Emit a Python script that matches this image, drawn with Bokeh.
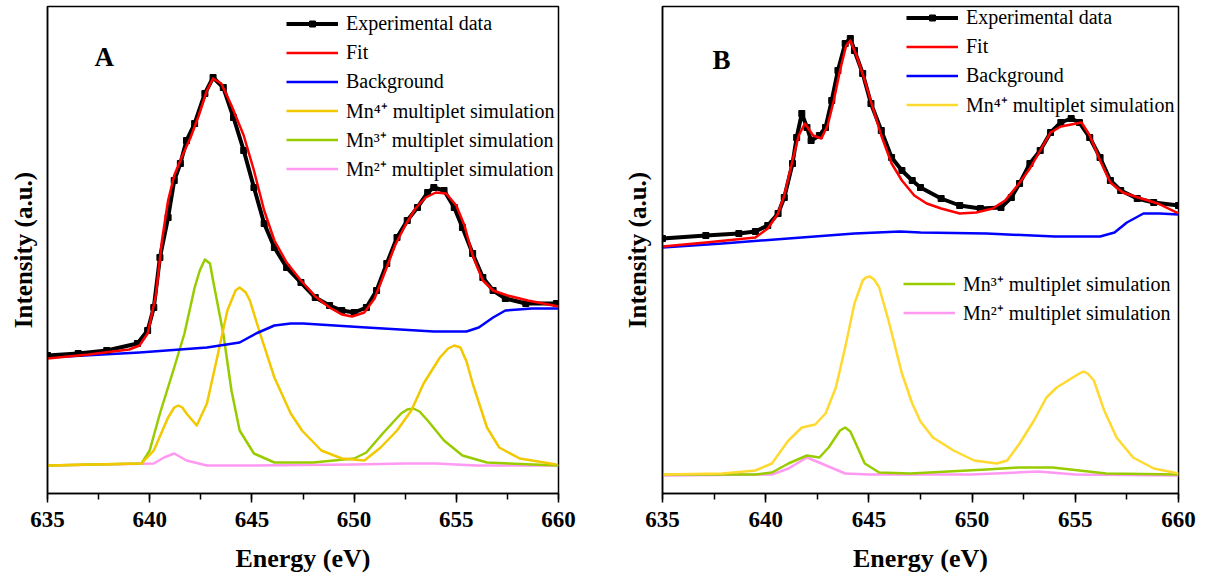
from bokeh.plotting import figure
from bokeh.layouts import row
from bokeh.models import Range1d, SingleIntervalTicker, FixedTicker, Legend, LegendItem, Label
from bokeh.embed import file_html
from bokeh.resources import INLINE

# ---------------- Panel A data (energy in eV, intensity in a.u.) ----------------
a_exp_e = [635.0, 636.5, 637.9, 639.4, 639.9, 640.2, 640.5, 640.9, 641.2, 641.5, 641.8, 642.2, 642.7, 643.1,
           643.6, 644.1, 644.6, 645.1, 645.6, 646.1, 646.7, 647.4, 648.1, 648.8, 649.4, 650.0, 650.6, 651.1,
           651.6, 652.1, 652.6, 653.1, 653.6, 653.9, 654.4, 654.9, 655.3, 655.8, 656.3, 656.8, 657.4, 658.4, 659.9]
a_exp_i = [138, 140, 143, 150, 163, 186, 236, 276, 313, 330, 353, 370, 400, 416,
           406, 376, 343, 306, 270, 246, 226, 211, 196, 188, 183, 181, 186, 203,
           230, 256, 273, 286, 301, 306, 303, 286, 266, 240, 216, 203, 195, 190, 190]

a_fit_e = [635.0, 637.0, 639.0, 639.5, 639.9, 640.3, 640.6, 640.9, 641.2, 641.6, 642.0, 642.4, 642.8, 643.1,
           643.5, 644.0, 644.6, 645.1, 645.6, 646.1, 646.7, 647.4, 648.1, 648.8, 649.4, 649.9, 650.5, 651.0,
           651.5, 652.0, 652.5, 653.0, 653.5, 654.0, 654.5, 655.0, 655.4, 655.8, 656.3, 656.8, 657.5, 658.5, 660.0]
a_fit_i = [135, 139, 144, 148, 160, 198, 253, 293, 318, 338, 356, 378, 403, 415,
           410, 388, 358, 323, 283, 253, 231, 213, 197, 186, 179, 177, 181, 195,
           221, 248, 268, 285, 296, 301, 300, 288, 268, 238, 213, 203, 198, 193, 187]

a_bg_e = [635.0, 639.5, 642.8, 644.4, 645.2, 646.1, 646.9, 647.5, 650.6, 653.9, 655.5, 656.1, 656.8, 657.4, 658.7, 660.0]
a_bg_i = [136, 141, 146, 151, 160, 168, 170, 170, 166, 162, 162, 166, 176, 183, 185, 185]

a_mn4_e = [635.0, 639.6, 640.2, 640.9, 641.2, 641.4, 641.6, 641.8, 642.3, 642.8, 643.3, 643.8, 644.2, 644.4,
           644.7, 644.9, 645.4, 646.1, 646.9, 647.45, 648.4, 649.4, 650.5, 651.3, 652.1, 652.8, 653.4, 654.2,
           654.6, 654.9, 655.2, 655.5, 655.8, 656.5, 657.1, 658.1, 659.9]
a_mn4_i = [28, 30, 43, 76, 86, 88, 86, 80, 68, 90, 136, 183, 203, 206,
           201, 193, 160, 116, 80, 63, 43, 35, 33, 46, 63, 83, 110, 136,
           145, 148, 146, 132, 110, 66, 46, 35, 29]

a_mn3_e = [635.0, 639.6, 640.0, 640.5, 641.2, 641.7, 642.2, 642.45, 642.7, 642.95, 643.1, 643.6, 644.0, 644.4,
           645.1, 646.1, 648.0, 650.0, 650.6, 651.4, 652.3, 652.6, 652.9, 653.2, 653.6, 654.4, 655.3, 656.5, 660.0]
a_mn3_i = [28, 30, 43, 80, 126, 160, 206, 223, 234, 230, 213, 160, 103, 63,
           40, 31, 31, 35, 41, 60, 80, 84, 85, 82, 73, 53, 38, 31, 28]

a_mn2_e = [635.0, 640.2, 640.7, 641.2, 641.8, 642.8, 645.0, 650.0, 652.5, 654.0, 656.0, 660.0]
a_mn2_i = [28, 30, 36, 40, 33, 28, 28, 29, 30, 30, 28, 28]

# ---------------- Panel B data ----------------
b_exp_e = [635.0, 637.1, 638.7, 639.5, 640.1, 640.6, 640.9, 641.3, 641.5, 641.75, 642.0, 642.2, 642.6, 642.9,
           643.2, 643.5, 643.85, 644.1, 644.3, 644.7, 645.1, 645.6, 646.1, 646.6, 647.1, 647.5, 648.5, 649.4,
           650.4, 651.4, 651.9, 652.3, 652.8, 653.3, 653.8, 654.3, 654.8, 655.2, 655.7, 656.2, 656.7, 657.2,
           658.0, 658.8, 660.0]
b_exp_i = [255, 258, 260, 262, 268, 280, 296, 330, 356, 380, 366, 353, 358, 366,
           393, 423, 450, 455, 443, 420, 390, 363, 336, 323, 313, 306, 295, 288,
           285, 286, 296, 310, 330, 343, 361, 371, 375, 371, 356, 336, 313, 303,
           295, 291, 288]

b_fit_e = [635.0, 637.1, 639.5, 640.1, 640.6, 640.9, 641.3, 641.6, 641.9, 642.3, 642.7, 643.0, 643.3, 643.6,
           643.9, 644.1, 644.4, 644.8, 645.2, 645.6, 646.1, 646.6, 647.2, 647.8, 648.5, 649.4, 650.2, 651.0,
           651.6, 652.2, 652.8, 653.3, 653.8, 654.3, 654.8, 655.3, 655.7, 656.2, 656.7, 657.3, 658.2, 659.0, 660.0]
b_fit_i = [247, 251, 256, 265, 280, 298, 333, 358, 370, 358, 355, 368, 393, 423,
           448, 453, 438, 413, 385, 358, 330, 313, 298, 290, 285, 280, 281, 285,
           293, 308, 325, 343, 361, 367, 369, 371, 358, 333, 311, 301, 295, 290, 280]

b_bg_e = [635.0, 637.9, 641.1, 644.3, 646.5, 647.5, 650.7, 654.0, 656.2, 656.9, 657.5, 658.3, 659.1, 660.0]
b_bg_i = [246, 250, 255, 260, 262, 261, 260, 257, 257, 261, 271, 280, 280, 279]

b_mn4_e = [635.0, 637.9, 639.5, 640.3, 641.1, 641.75, 642.4, 642.9, 643.4, 643.85, 644.3, 644.7, 644.85, 645.05,
           645.25, 645.5, 645.95, 646.6, 647.1, 647.5, 648.1, 649.1, 650.1, 651.2, 651.7, 652.3, 653.0, 653.6,
           654.1, 654.8, 655.2, 655.4, 655.6, 655.9, 656.4, 657.0, 657.8, 658.8, 660.0]
b_mn4_i = [19, 20, 23, 30, 53, 66, 69, 80, 106, 146, 190, 213, 216, 217,
           214, 206, 173, 120, 90, 72, 56, 43, 33, 30, 33, 50, 73, 96,
           106, 115, 120, 122, 120, 113, 83, 56, 36, 25, 20]

b_mn3_e = [635.0, 639.5, 640.3, 641.1, 642.0, 642.6, 643.05, 643.6, 643.85, 644.1, 644.3, 644.8, 645.5, 647.0,
           650.7, 652.3, 653.9, 655.2, 656.5, 660.0]
b_mn3_i = [19, 19, 21, 30, 38, 36, 46, 63, 66, 62, 53, 30, 21, 20,
           24, 26, 26, 23, 20, 19]

b_mn2_e = [635.0, 640.3, 641.1, 642.0, 642.7, 643.85, 645.0, 650.0, 653.2, 655.0, 660.0]
b_mn2_i = [18, 19, 25, 36, 30, 20, 19, 19, 22, 19, 18]

labels = ["Experimental data", "Fit", "Background",
          "Mn\u2074\u207a multiplet simulation", "Mn\u00b3\u207a multiplet simulation", "Mn\u00b2\u207a multiplet simulation"]
x_ticks_interval = 5

SERIF = "Liberation Serif"
C_FIT = "#FF0000"
C_BG = "#0000FF"
C_MN3 = "#99CC00"
C_MN2 = "#FF99F2"


def make_panel(width, ml, mr, title_standoff, series, mn4_color):
    p = figure(width=width, height=588, output_backend="svg", toolbar_location=None,
               x_range=Range1d(635, 660), y_range=Range1d(0, 487),
               min_border_left=ml, min_border_right=mr, min_border_top=6, min_border_bottom=95,
               background_fill_color="white", border_fill_color="white")
    p.grid.visible = False
    p.outline_line_color = "black"
    p.outline_line_width = 1.5
    p.outline_line_alpha = 1.0

    xa = p.xaxis[0]
    xa.ticker = SingleIntervalTicker(interval=x_ticks_interval, num_minor_ticks=2)
    xa.major_tick_out = 9
    xa.major_tick_in = 0
    xa.minor_tick_out = 6
    xa.minor_tick_in = 0
    xa.major_tick_line_width = 1.5
    xa.minor_tick_line_width = 1.5
    xa.axis_line_width = 1.5
    xa.major_label_text_font = SERIF
    xa.major_label_text_font_style = "bold"
    xa.major_label_text_font_size = "23px"
    xa.major_label_text_color = "black"
    xa.major_label_standoff = 9
    xa.axis_label = "Energy (eV)"
    xa.axis_label_text_font = SERIF
    xa.axis_label_text_font_style = "bold"
    xa.axis_label_text_font_size = "26px"
    xa.axis_label_text_color = "black"
    xa.axis_label_standoff = 14

    ya = p.yaxis[0]
    ya.ticker = FixedTicker(ticks=[])
    ya.major_tick_line_color = None
    ya.minor_tick_line_color = None
    ya.major_label_text_font_size = "0px"
    ya.axis_line_width = 1.5
    ya.axis_label = "Intensity (a.u.)"
    ya.axis_label_text_font = SERIF
    ya.axis_label_text_font_style = "bold"
    ya.axis_label_text_font_size = "25px"
    ya.axis_label_text_color = "black"
    ya.axis_label_standoff = title_standoff

    (ex_e, ex_i), (fit_e, fit_i), (bg_e, bg_i), (m4_e, m4_i), (m3_e, m3_i), (m2_e, m2_i) = series

    r_m2 = p.line(m2_e, m2_i, line_color=C_MN2, line_width=2.5, line_join="round")
    r_m3 = p.line(m3_e, m3_i, line_color=C_MN3, line_width=2.5, line_join="round")
    r_m4 = p.line(m4_e, m4_i, line_color=mn4_color, line_width=2.5, line_join="round")
    r_bg = p.line(bg_e, bg_i, line_color=C_BG, line_width=2.5, line_join="round")
    r_exl = p.line(ex_e, ex_i, line_color="black", line_width=4, line_join="round")
    r_exs = p.scatter(ex_e, ex_i, marker="square", size=6, fill_color="black", line_color="black")
    r_fit = p.line(fit_e, fit_i, line_color=C_FIT, line_width=2.5, line_join="round")
    return p, [[r_exl, r_exs], [r_fit], [r_bg], [r_m4], [r_m3], [r_m2]]


def make_legend(items, loc):
    return Legend(items=items, location=loc, orientation="vertical",
                  border_line_color=None, background_fill_alpha=0,
                  label_text_font=SERIF, label_text_font_size="20px", label_text_color="black",
                  glyph_width=52, glyph_height=15, label_height=27, spacing=2,
                  padding=0, margin=0, label_standoff=8)


pA, rA = make_panel(600, 47, 42, 11,
                    [(a_exp_e, a_exp_i), (a_fit_e, a_fit_i), (a_bg_e, a_bg_i),
                     (a_mn4_e, a_mn4_i), (a_mn3_e, a_mn3_i), (a_mn2_e, a_mn2_i)], "#F2C800")
legA = make_legend([LegendItem(label=labels[k], renderers=rA[k]) for k in range(6)], (239, 311))
pA.add_layout(legA)
pA.add_layout(Label(x=637.78, y=437, text="A", text_font=SERIF, text_font_style="bold", text_color="black",
                    text_font_size="27px", text_align="center", text_baseline="middle"))

pB, rB = make_panel(605, 62, 27, 12,
                    [(b_exp_e, b_exp_i), (b_fit_e, b_fit_i), (b_bg_e, b_bg_i),
                     (b_mn4_e, b_mn4_i), (b_mn3_e, b_mn3_i), (b_mn2_e, b_mn2_i)], "#FFD92F")
legB1 = make_legend([LegendItem(label=labels[k], renderers=rB[k]) for k in range(4)], (244, 375))
legB2 = make_legend([LegendItem(label=labels[k], renderers=rB[k]) for k in range(4, 6)], (241, 167))
pB.add_layout(legB1)
pB.add_layout(legB2)
pB.add_layout(Label(x=637.86, y=434, text="B", text_font=SERIF, text_font_style="bold", text_color="black",
                    text_font_size="27px", text_align="center", text_baseline="middle"))

layout = row(pA, pB)
open("out.html", "w").write(file_html(layout, INLINE))
